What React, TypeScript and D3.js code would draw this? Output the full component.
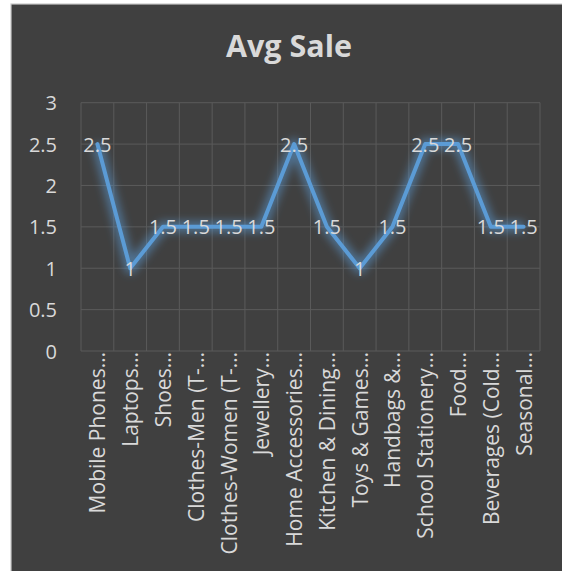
import React from "react";
import * as d3 from "d3";

const categories = [
  "Mobile Phones…",
  "Laptops…",
  "Shoes…",
  "Clothes-Men (T-…",
  "Clothes-Women (T-…",
  "Jewellery…",
  "Home Accessories…",
  "Kitchen & Dining…",
  "Toys & Games…",
  "Handbags &…",
  "School Stationery…",
  "Food…",
  "Beverages (Cold…",
  "Seasonal…",
];
const avgSale = [2.5, 1, 1.5, 1.5, 1.5, 1.5, 2.5, 1.5, 1, 1.5, 2.5, 2.5, 1.5, 1.5];
const yTicks = [0, 0.5, 1, 1.5, 2, 2.5, 3];
const title = "Avg Sale";

const W = 562;
const H = 571;
const FONT = "'Open Sans', 'DejaVu Sans', sans-serif";
const TEXT = "#d9d9d9";
const GRID = "#5a5a5a";
const LINE = "#5b9bd5";

export default function App() {
  const x = d3.scaleBand<string>().domain(categories).range([81, 540]);
  const y = d3.scaleLinear().domain([0, 3]).range([351, 102.7]);
  const cx = (c: string) => (x(c) as number) + x.bandwidth() / 2;

  const line = d3
    .line<number>()
    .x((_, i) => cx(categories[i]))
    .y((d) => y(d));
  const pathD = line(avgSale) || "";

  const boundaries = categories.map((c) => x(c) as number).concat([x.range()[1]]);

  return (
    <div style={{ position: "absolute", left: 0, top: 0 }}>
      <svg width={W} height={H} style={{ display: "block" }}>
        <defs>
          <filter id="glow" x="-20%" y="-20%" width="140%" height="140%">
            <feGaussianBlur stdDeviation="4.5" />
          </filter>
        </defs>
        <rect x={0} y={0} width={W} height={H} fill="#ffffff" />
        <rect x={11} y={4} width={W} height={H} fill="#404040" stroke="#c8c8c8" strokeWidth={1.2} />

        <text
          x={289}
          y={57}
          textAnchor="middle"
          fontFamily={FONT}
          fontWeight={700}
          fontSize={30.5}
          fill={TEXT}
        >
          {title}
        </text>

        {/* horizontal gridlines */}
        {yTicks.map((t) => (
          <line
            key={"h" + t}
            x1={x.range()[0]}
            x2={x.range()[1]}
            y1={y(t)}
            y2={y(t)}
            stroke={GRID}
            strokeWidth={1}
          />
        ))}
        {/* vertical gridlines at category boundaries */}
        {boundaries.map((b, i) => (
          <line
            key={"v" + i}
            x1={b}
            x2={b}
            y1={y(3)}
            y2={y(0)}
            stroke={GRID}
            strokeWidth={1}
          />
        ))}

        {/* y-axis tick labels */}
        {yTicks.map((t) => (
          <text
            key={"yt" + t}
            x={57}
            y={y(t)}
            textAnchor="end"
            dominantBaseline="central"
            fontFamily={FONT}
            fontSize={20}
            fill={TEXT}
          >
            {d3.format("")(t)}
          </text>
        ))}

        {/* category labels, rotated */}
        {categories.map((c) => (
          <text
            key={"c" + c}
            transform={`translate(${cx(c)},${y(0) + 1}) rotate(-90)`}
            textAnchor="end"
            dominantBaseline="central"
            fontFamily={FONT}
            fontSize={21}
            fill={TEXT}
          >
            {c}
          </text>
        ))}

        {/* series line with soft glow */}
        <path
          d={pathD}
          fill="none"
          stroke={LINE}
          strokeOpacity={0.55}
          strokeWidth={11}
          strokeLinejoin="round"
          filter="url(#glow)"
        />
        <path
          d={pathD}
          fill="none"
          stroke={LINE}
          strokeWidth={4}
          strokeLinejoin="round"
          strokeLinecap="round"
        />

        {/* data labels centred on points */}
        {avgSale.map((v, i) => (
          <text
            key={"dl" + i}
            x={cx(categories[i])}
            y={y(v)}
            textAnchor="middle"
            dominantBaseline="central"
            fontFamily={FONT}
            fontSize={20}
            fill={TEXT}
          >
            {d3.format("")(v)}
          </text>
        ))}
      </svg>
    </div>
  );
}
